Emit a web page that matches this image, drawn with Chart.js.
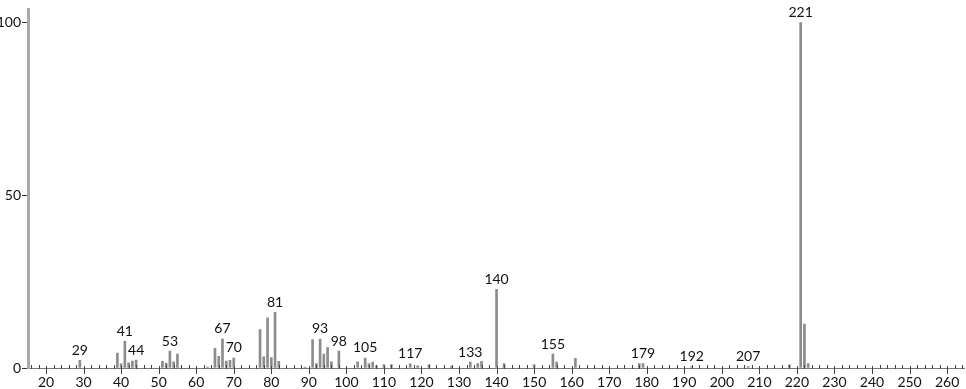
<!DOCTYPE html>
<html>
<head>
<meta charset="utf-8">
<script src="https://cdn.jsdelivr.net/npm/chart.js@4/dist/chart.umd.min.js"></script>
<style>
  html, body { margin: 0; padding: 0; background: #fff; }
  canvas { display: block; }
</style>
</head>
<body>
<canvas id="spectrum" width="966" height="389"></canvas>
<script>
// mass spectrum: m/z and relative intensity (%)
var mz        = [29, 39, 40, 41, 42, 43, 44, 51, 52, 53, 54, 55, 63, 65, 66, 67, 68, 69, 70,
                 77, 78, 79, 80, 81, 82, 89, 91, 92, 93, 94, 95, 96, 98, 103, 105, 106, 107,
                 108, 110, 112, 117, 119, 122, 128, 133, 135, 136, 140, 142, 150, 155, 156,
                 161, 178, 179, 192, 207, 218, 221, 222, 223];
var intensity = [2.2, 4.3, 1.2, 7.7, 1.5, 2.0, 2.3, 1.9, 1.4, 4.9, 1.8, 4.0, 0.3, 5.7, 3.4, 8.4, 2.0, 2.2, 2.9,
                 11.1, 3.2, 14.5, 3.0, 16.1, 1.9, 0.3, 8.2, 1.3, 8.4, 4.0, 5.9, 1.8, 4.9, 1.8, 2.9, 1.3, 1.7,
                 0.6, 1.0, 1.0, 1.2, 0.6, 1.0, 0.5, 1.7, 1.3, 1.9, 22.8, 1.3, 1.0, 4.0, 1.7,
                 2.8, 1.3, 1.3, 0.4, 0.4, 0.9, 100, 12.7, 1.3];
var labelled  = [29, 41, 44, 53, 67, 70, 81, 93, 98, 105, 117, 133, 140, 155, 179, 192, 207, 221];
var xTicks    = [20, 30, 40, 50, 60, 70, 80, 90, 100, 110, 120, 130, 140, 150, 160, 170, 180,
                 190, 200, 210, 220, 230, 240, 250, 260];
var yTicks    = [0, 50, 100];

var FONT = {family: 'Lato, sans-serif', size: 14, weight: 'normal'};

var peakLabels = {
    id: 'peakLabels',
    afterDatasetsDraw: function(chart) {
        var ctx = chart.ctx;
        var meta = chart.getDatasetMeta(0);
        ctx.save();
        ctx.font = '14px Lato, sans-serif';
        ctx.fillStyle = '#111';
        ctx.textAlign = 'center';
        ctx.textBaseline = 'bottom';
        for (var i = 0; i < mz.length; i++) {
            if (labelled.indexOf(mz[i]) < 0) continue;
            var el = meta.data[i];
            ctx.fillText(String(mz[i]), el.x, el.y - 3);
        }
        ctx.restore();
    }
};

// tick marks on the m/z axis: long every 10, short every 2
var axisTicks = {
    id: 'axisTicks',
    afterDraw: function(chart) {
        var xs = chart.scales.x;
        var ctx = chart.ctx;
        var base = Math.round(chart.chartArea.bottom);
        ctx.save();
        ctx.strokeStyle = '#444';
        ctx.lineWidth = 1;
        for (var v = 16; v <= 264; v += 2) {
            var px = Math.round(xs.getPixelForValue(v)) + 0.5;
            var major = v % 10 === 0;
            ctx.beginPath();
            ctx.moveTo(px, major ? base - 2 : base - 3);
            ctx.lineTo(px, major ? base + 6 : base + 1);
            ctx.stroke();
        }
        ctx.restore();
    }
};

new Chart(document.getElementById('spectrum'), {
    type: 'bar',
    data: {
        datasets: [{
            data: mz.map(function(m, i) { return {x: m, y: intensity[i]}; }),
            backgroundColor: '#8c8c8c',
            barThickness: 2,
            grouped: false
        }]
    },
    options: {
        responsive: false,
        animation: false,
        layout: {padding: {top: 0, right: 2, left: 0, bottom: 0}},
        plugins: {legend: {display: false}, tooltip: {enabled: false}},
        scales: {
            x: {
                type: 'linear',
                min: 15.2,
                max: 264.5,
                offset: false,
                afterBuildTicks: function(scale) {
                    scale.ticks = xTicks.map(function(v) { return {value: v}; });
                },
                afterFit: function(scale) { scale.height = 21; },
                ticks: {color: '#111', font: FONT, padding: 0, maxRotation: 0, autoSkip: false},
                grid: {display: true, drawOnChartArea: false, tickLength: 6, color: 'rgba(0,0,0,0)'},
                border: {display: true, color: '#777', width: 1}
            },
            y: {
                min: 0,
                max: 103.8,
                afterBuildTicks: function(scale) {
                    scale.ticks = yTicks.map(function(v) { return {value: v}; });
                },
                afterFit: function(scale) { scale.width = 28; },
                ticks: {color: '#111', font: FONT, padding: 1},
                grid: {display: true, drawOnChartArea: false, tickLength: 6, color: '#333'},
                border: {display: true, color: '#aaa', width: 3}
            }
        }
    },
    plugins: [peakLabels, axisTicks]
});
</script>
</body>
</html>
